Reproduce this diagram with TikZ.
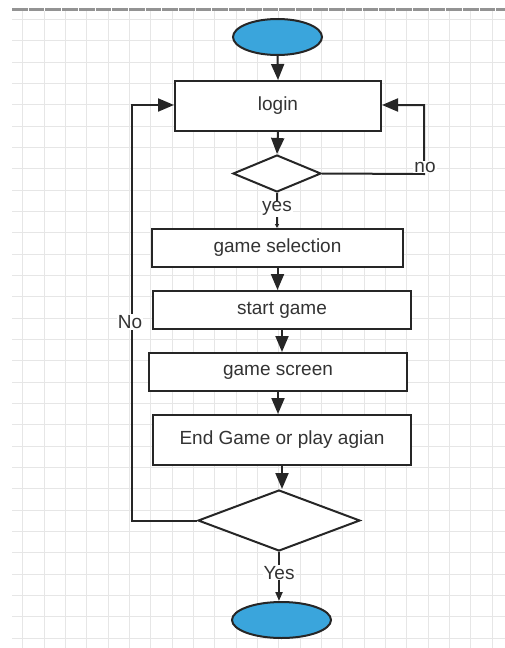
\documentclass[tikz,border=0pt]{standalone}
\usepackage{fontspec}
\setmainfont{Liberation Sans}
\usetikzlibrary{shapes.geometric,arrows.meta}
\definecolor{gridc}{HTML}{E6E6E6}
\definecolor{linec}{HTML}{262626}
\definecolor{txtc}{HTML}{333333}
\definecolor{termc}{HTML}{3AA5DC}
\tikzset{
  box/.style={draw=linec, line width=2pt, fill=white, rectangle, inner sep=0pt, text=txtc, font=\fontsize{19}{22}\selectfont},
  term/.style={draw=linec, line width=2pt, fill=termc, ellipse, inner sep=0pt},
  dec/.style={draw=linec, line width=2pt, fill=white, diamond, inner sep=0pt, aspect=2},
  conn/.style={draw=linec, line width=2pt, -{Triangle[length=16pt,width=13pt]}},
  plain/.style={draw=linec, line width=2pt},
  lab/.style={fill=white, inner sep=1pt, text=txtc, font=\fontsize{19}{22}\selectfont},
}
\begin{document}
\begin{tikzpicture}[x=1pt,y=-1pt]
\useasboundingbox (0,0) rectangle (505,648);
% grid
\foreach \i in {0,...,22} \draw[gridc, line width=0.8pt] ({22.7+21.34*\i},11) -- ({22.7+21.34*\i},648);
\foreach \i in {0,...,29} \draw[gridc, line width=0.8pt] (12,{19.3+21.34*\i}) -- (505,{19.3+21.34*\i});
% top border
\draw[gray!85, line width=2.4pt, dash pattern=on 15.7pt off 1pt] (12,9.5) -- (505,9.5);

% nodes
\node[term, minimum width=89pt, minimum height=36pt] (start) at (277.5,37) {};
\node[box, minimum width=206pt, minimum height=50pt] (login) at (278,106) {login};
\node[dec, minimum width=88pt, minimum height=37pt] (d1) at (277,173.5) {};
\node[box, minimum width=251pt, minimum height=38pt] (gs) at (277.5,248) {game selection};
\node[box, minimum width=258pt, minimum height=38pt] (sg) at (282,310) {start game};
\node[box, minimum width=258pt, minimum height=38pt] (gsc) at (278,372) {game screen};
\node[box, minimum width=258pt, minimum height=50pt] (eg) at (282,440) {End Game or play agian};
\node[dec, minimum width=162pt, minimum height=61pt] (d2) at (279,520.5) {};
\node[term, minimum width=99pt, minimum height=36pt] (end) at (281.5,620) {};

\coordinate (lb) at (132,520.5);
\coordinate (lt) at (132,105);
\coordinate (rb) at (424,174);
\coordinate (rt) at (424,105);

% connectors
\draw[conn] (start.south) -- (login.north);
\draw[conn] (login.south) -- (d1.north);
\draw[plain, -{Triangle[length=4pt,width=4pt]}] (d1.south) -- (d1.south |- gs.north) node[lab, pos=0.45] {yes};
\draw[conn] (gs.south) -- (gs.south |- sg.north);
\draw[conn] (sg.south) -- (sg.south |- gsc.north);
\draw[conn] (gsc.south) -- (gsc.south |- eg.north);
\draw[conn] (eg.south) -- (eg.south |- d2.north);
\draw[plain, -{Triangle[length=9pt,width=7pt]}] (d2.south) -- (d2.south |- end.north) node[lab, pos=0.42] {Yes};
\draw[conn] (d2.west) -- (lb) -- (lt) -- (login.west |- lt);
\node[lab] at (130,322) {No};
\draw[conn] (d1.east) -- (rb) -- (rt) -- (login.east |- rt);
\node[lab] at (425,167) {no};
\end{tikzpicture}
\end{document}
